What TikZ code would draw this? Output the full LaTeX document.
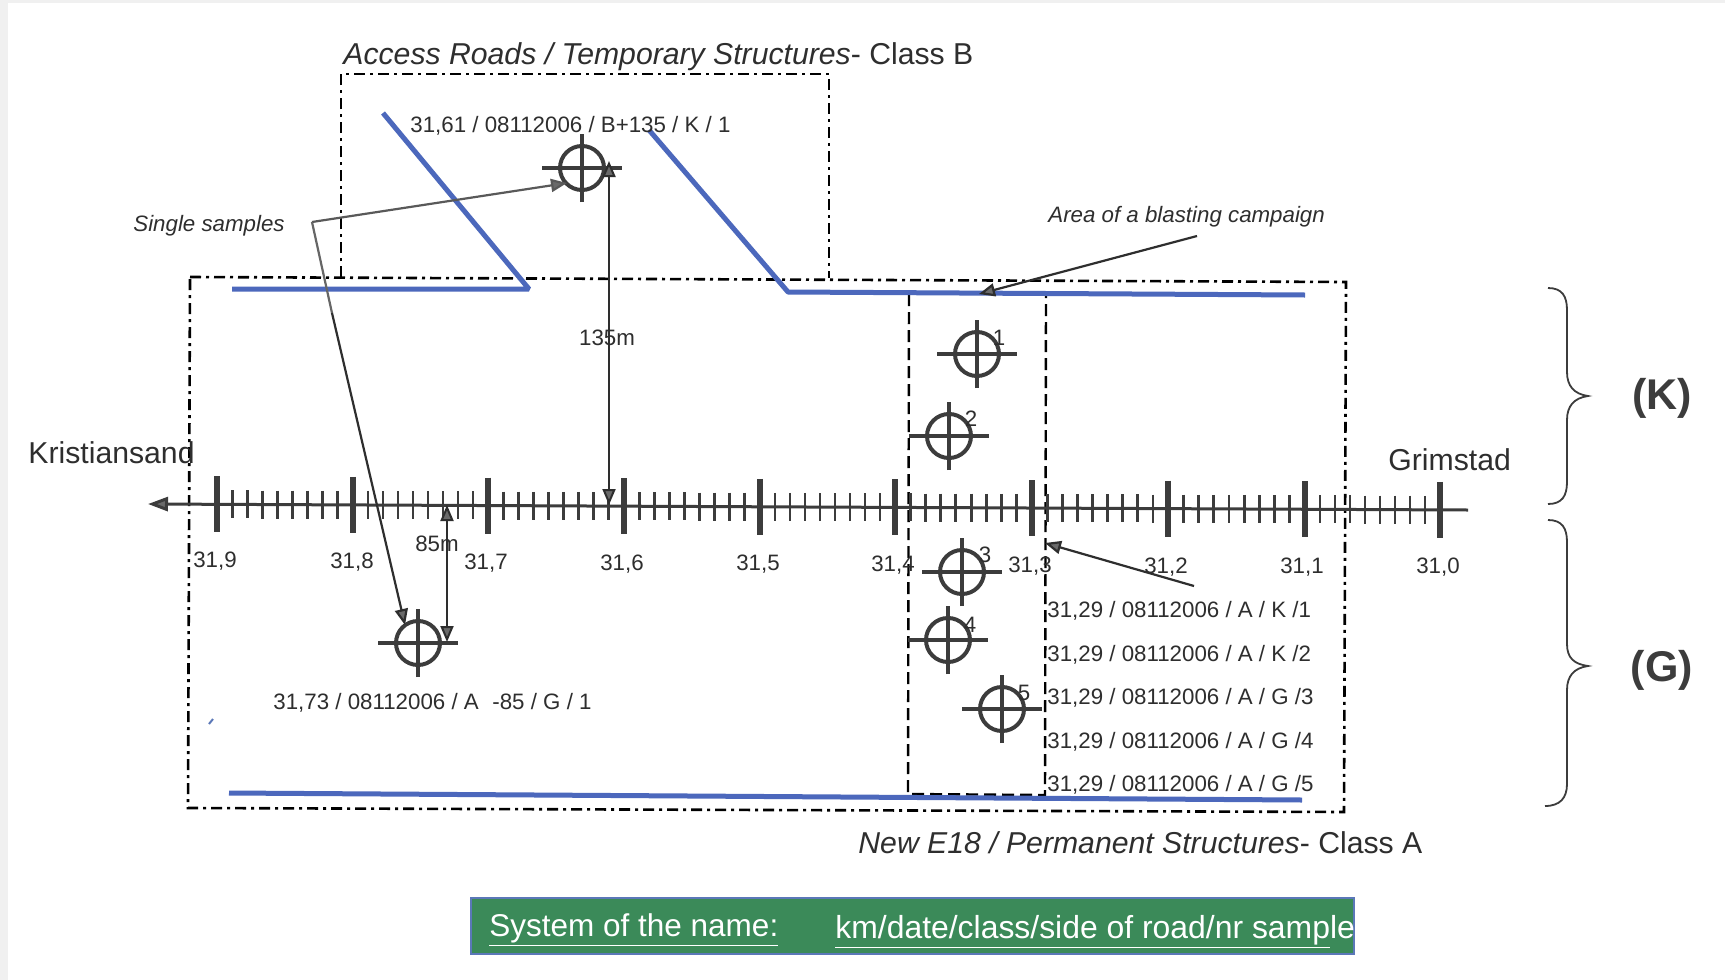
\documentclass[tikz,border=0pt]{standalone}
\usepackage{fontspec}
\setmainfont{Liberation Sans}
\usetikzlibrary{arrows.meta}
\definecolor{roadblue}{HTML}{4C68BC}
\definecolor{ink}{HTML}{2E2E2E}
\definecolor{mark}{HTML}{3C3C3C}
\definecolor{tipgray}{HTML}{6A6A6A}
\definecolor{bargreen}{HTML}{3B8A59}
\definecolor{baredge}{HTML}{5B78B8}
\newcommand{\fpx}[1]{\fontsize{#1}{#1}\selectfont}
\tikzset{
  road/.style={draw=roadblue,line width=2.5pt,line join=bevel},
  dashdotbox/.style={draw=black,line width=1.3pt,dash pattern=on 5.5pt off 2.5pt on 1.5pt off 2.5pt},
  dashbox/.style={draw=black,line width=1.2pt,dash pattern=on 6pt off 3pt},
  target/.style={circle,draw=mark,line width=2pt,minimum size=22pt,inner sep=0pt,outer sep=0pt},
  arm/.style={draw=mark,line width=1.6pt},
  ptr/.style={draw=ink,line width=1.1pt,-{Stealth[length=8pt,width=6.5pt,inset=0pt,fill=tipgray]}},
  dim/.style={draw=ink,line width=1pt,{Stealth[length=8pt,width=6.5pt,inset=0pt,fill=tipgray]}-{Stealth[length=8pt,width=6.5pt,inset=0pt,fill=tipgray]}},
  lab/.style={inner sep=0pt,text=ink,font=\fpx{11.15}},
  big/.style={inner sep=0pt,text=ink,font=\fpx{15.1}},
  brace/.style={draw=mark,line width=0.9pt},
  side/.style={inner sep=0pt,text=mark,font=\fpx{21.5}\bfseries},
}
\begin{document}
\begin{tikzpicture}[x=0.5pt,y=-0.5pt]
\useasboundingbox (0,0) rectangle (1725,980);
\fill[black!6] (0,0) rectangle (1725,980);
\fill[white] (8,3) rectangle (1725,980);

% boxes
\draw[dashdotbox] (341,277) -- (341,74) -- (829,74) -- (829,278);
\draw[dashdotbox] (190,277) -- (1346,282) -- (1344,812) -- (188,808) -- cycle;
\draw[dashbox] (909,294) -- (908,794) -- (1045,795) -- (1046,295);

% roads
\draw[road] (232,289) -- (529,289) -- (383,113);
\draw[road] (649,130) -- (788,292) -- (1305,295);
\draw[road] (229,793) -- (1302,800);

% axis
\coordinate (axisL) at (148,504);
\coordinate (axisR) at (1468,510);
\draw[draw=mark,line width=1.5pt,-{Stealth[length=10pt,width=7pt,inset=0pt,fill=tipgray]}] (axisR) -- (axisL);
\foreach \mx in {217,353,488,624,760,895,1032,1168,1305,1440}{
  \pgfmathsetmacro\my{504+(\mx-150)*0.00455}
  \draw[draw=mark,line width=2.6pt] (\mx,\my-28) -- (\mx,\my+28);
}
\foreach \a/\b in {217/353,353/488,488/624,624/760,760/895,895/1032,1032/1168,1168/1305,1305/1440}{
  \foreach \k in {1,...,8}{
    \pgfmathsetmacro\mx{\a+(\b-\a)*\k/9}
    \pgfmathsetmacro\my{504+(\mx-150)*0.00455}
    \draw[draw=mark,line width=1.4pt] (\mx,\my-14) -- (\mx,\my+14);
  }
}

% targets
\foreach \n/\x/\y in {t0/582/168,t1/977/354,t2/949/436,t3/962/572,t4/948/640,t5/1002/709,tg/418/643}{
  \node[target] (\n) at (\x,\y) {};
  \draw[arm] ([xshift=-20pt]\n.center) -- ([xshift=20pt]\n.center);
  \draw[arm] ([yshift=-17pt]\n.center) -- ([yshift=17pt]\n.center);
}
\node[lab] (n1) at (999,338) {1};
\node[lab] (n2) at (971,419) {2};
\node[lab] (n3) at (985,555) {3};
\node[lab] (n4) at (970,625) {4};
\node[lab] (n5) at (1024,693) {5};

% pointers
\coordinate (kink) at (312,222);
\coordinate (kinkmid) at (332,313);
\coordinate (t0tip) at (567,183);
\coordinate (tgtip) at (405,625);
\draw[ptr,draw=black!65] (kink) -- (t0tip);
\draw[draw=black!60,line width=1.1pt] (kink) -- (kinkmid);
\draw[ptr] (kinkmid) -- (tgtip);
\coordinate (d135a) at (609,161);
\coordinate (d135b) at (609,505);
\draw[dim] (d135a) -- (d135b);
\coordinate (d85a) at (447,505);
\coordinate (d85b) at (447,642);
\draw[dim] (d85a) -- (d85b);
\coordinate (p3a) at (1194,586);
\coordinate (p3b) at (1045,543);
\draw[ptr] (p3a) -- (p3b);
\coordinate (blasta) at (1197,236);
\coordinate (blastb) at (979,294);
\draw[ptr] (blasta) -- (blastb);
\coordinate (specka) at (209,724);
\coordinate (speckb) at (213,719);
\draw[draw=baredge,line width=1pt] (specka) -- (speckb);

% braces
\draw[brace] (1548,288) .. controls (1562,288) and (1567,296) .. (1567,310)
  -- (1567,372) .. controls (1567,386) and (1574,394) .. (1588,396)
  .. controls (1574,398) and (1567,406) .. (1567,420)
  -- (1567,482) .. controls (1567,496) and (1562,504) .. (1548,504);
\draw[brace] (1548,520) .. controls (1562,520) and (1567,528) .. (1567,542)
  -- (1567,644) .. controls (1567,658) and (1574,664) .. (1588,666)
  .. controls (1574,668) and (1567,676) .. (1567,690)
  -- (1567,784) .. controls (1567,798) and (1560,806) .. (1545,806);

% axis labels
\node[lab] (a9) at (215,561) {31,9};
\node[lab] (a8) at (352,562) {31,8};
\node[lab] (a7) at (486,563) {31,7};
\node[lab] (a6) at (622,564) {31,6};
\node[lab] (a5) at (758,564) {31,5};
\node[lab] (a4) at (893,565) {31,4};
\node[lab] (a3) at (1030,566) {31,3};
\node[lab] (a2) at (1166,567) {31,2};
\node[lab] (a1) at (1302,567) {31,1};
\node[lab] (a0) at (1438,567) {31,0};

% text
\node[big,anchor=west] (accesslab) at (343,57) {\itshape Access Roads / Temporary Structures\upshape- Class B};
\node[big,anchor=west] (newlab) at (858,843) {\itshape New E18 / Permanent Structures\upshape- Class A};
\node[big,anchor=west] (kris) at (28,453) {Kristiansand};
\node[big,anchor=west] (grim) at (1388,460) {Grimstad};
\node[lab,anchor=west] (single) at (133,226) {\itshape Single samples};
\node[lab,anchor=west] (area) at (1048,217) {\itshape Area of a blasting campaign};
\node[lab,anchor=west] (s0) at (410,126) {31,61 / 08112006 / B+135 / K / 1};
\node[lab,anchor=west] (sg) at (273,703) {31,73 / 08112006 / A \,\,-85 / G / 1};
\node[lab] (m135) at (607,338) {135m};
\node[lab] (m85) at (437,544) {85m};
\node[lab,anchor=west] (l1) at (1047,611) {31,29 / 08112006 / A / K /1};
\node[lab,anchor=west] (l2) at (1047,655) {31,29 / 08112006 / A / K /2};
\node[lab,anchor=west] (l3) at (1047,698) {31,29 / 08112006 / A / G /3};
\node[lab,anchor=west] (l4) at (1047,742) {31,29 / 08112006 / A / G /4};
\node[lab,anchor=west] (l5) at (1047,785) {31,29 / 08112006 / A / G /5};
\node[side] (kk) at (1662,398) {(K)};
\node[side] (gg) at (1662,670) {(G)};

% name bar
\draw[fill=bargreen,draw=baredge,line width=0.8pt] (471,898) rectangle (1354,954);
\node[inner sep=0pt,anchor=west,text=white,font=\fpx{15.75}] (sysa) at (489,930) {\underline{System of the name:}};
\node[inner sep=0pt,anchor=west,text=white,font=\fpx{15.95}] (sysb) at (835,932) {\underline{km/date/class/side of road/nr samp}le};
\end{tikzpicture}
\end{document}
